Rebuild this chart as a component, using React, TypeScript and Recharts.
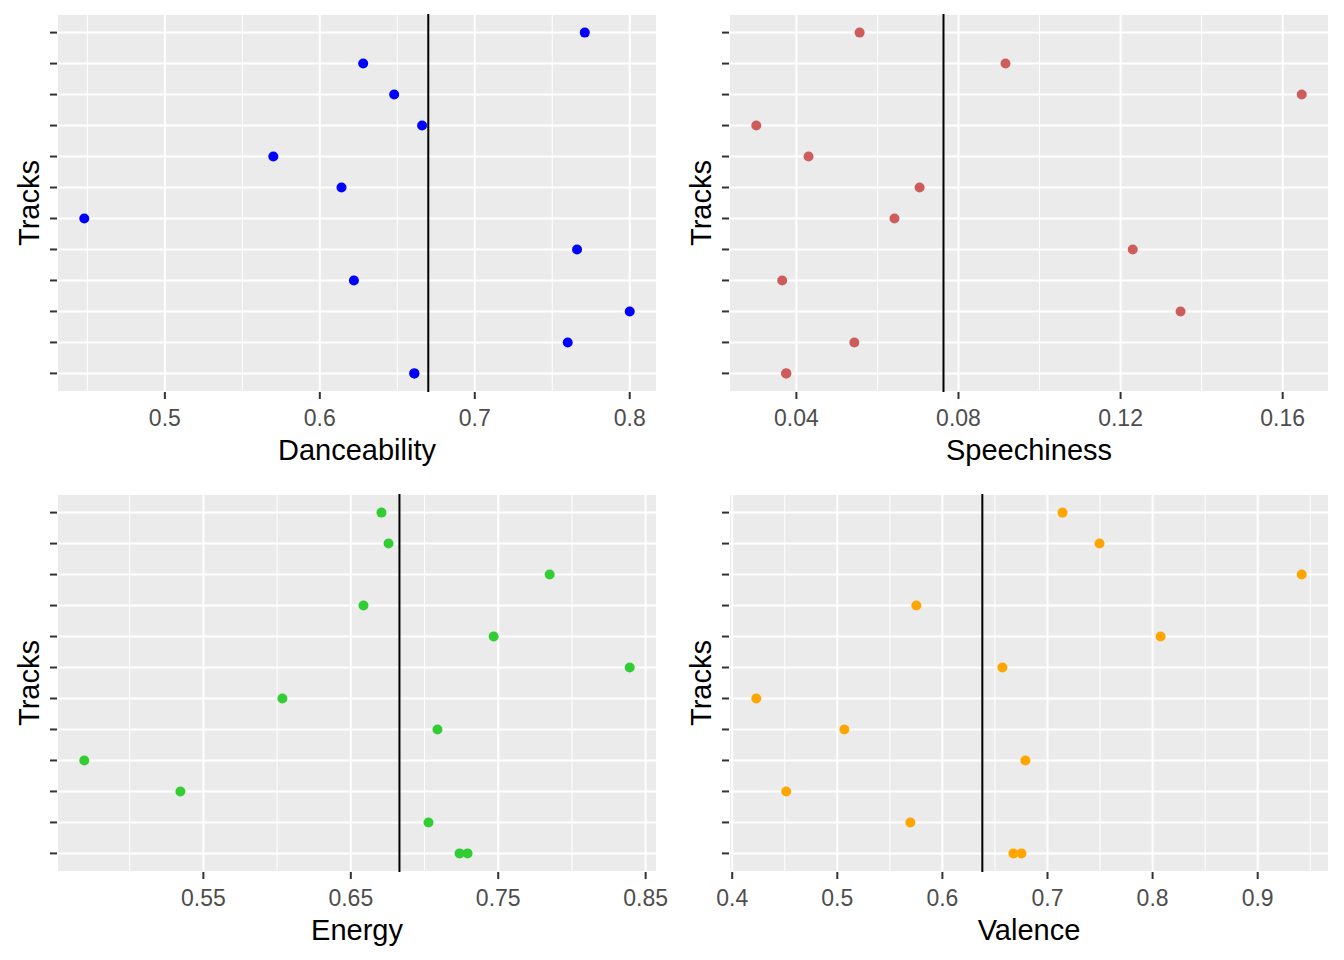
import {
  ScatterChart,
  Scatter,
  XAxis,
  YAxis,
  CartesianGrid,
  ReferenceLine,
} from 'recharts';

// Track levels, bottom to top (discrete y axis, labels hidden in the source chart)
const trackLevels = [
  'Track 01', 'Track 02', 'Track 03', 'Track 04', 'Track 05', 'Track 06',
  'Track 07', 'Track 08', 'Track 09', 'Track 10', 'Track 11', 'Track 12',
];

// One entry per point; the last two share a track
const pointTracks = [
  'Track 12', 'Track 11', 'Track 10', 'Track 09', 'Track 08', 'Track 07',
  'Track 06', 'Track 05', 'Track 04', 'Track 03', 'Track 02', 'Track 01', 'Track 01',
];

const danceability = [0.771, 0.628, 0.648, 0.666, 0.570, 0.614, 0.448, 0.766, 0.622, 0.800, 0.760, 0.661, 0.661];
const speechiness = [0.0556, 0.0916, 0.1647, 0.0301, 0.0430, 0.0704, 0.0642, 0.1230, 0.0365, 0.1348, 0.0543, 0.0375, 0.0375];
const energy = [0.6708, 0.6756, 0.7849, 0.6586, 0.7469, 0.8392, 0.6036, 0.7088, 0.4692, 0.5344, 0.7027, 0.7238, 0.7292];
const valence = [0.7143, 0.7495, 0.9419, 0.5752, 0.8076, 0.6571, 0.4229, 0.5067, 0.6790, 0.4514, 0.5695, 0.6676, 0.6752];

// Reference (average) lines drawn in black
const danceabilityRef = 0.670;
const speechinessRef = 0.0763;
const energyRef = 0.683;
const valenceRef = 0.638;

const danceabilityTicks = [0.5, 0.6, 0.7, 0.8];
const danceabilityMinor = [0.45, 0.55, 0.65, 0.75];
const speechinessTicks = [0.04, 0.08, 0.12, 0.16];
const speechinessMinor = [0.06, 0.1, 0.14];
const energyTicks = [0.55, 0.65, 0.75, 0.85];
const energyMinor = [0.5, 0.6, 0.7, 0.8];
const valenceTicks = [0.4, 0.5, 0.6, 0.7, 0.8, 0.9];
const valenceMinor = [0.45, 0.55, 0.65, 0.75, 0.85, 0.95];

const trackTicks = trackLevels.map((_, i) => i + 1);

// ggplot-style 5% expansion around the data range
function expand(values: number[]): [number, number] {
  const lo = Math.min(...values);
  const hi = Math.max(...values);
  const pad = (hi - lo) * 0.05;
  return [lo - pad, hi + pad];
}

interface PanelProps {
  title: string;
  values: number[];
  refValue: number;
  ticks: number[];
  minor: number[];
  color: string;
}

function Panel({ title, values, refValue, ticks, minor, color }: PanelProps) {
  const data = values.map((v, i) => ({
    x: v,
    y: trackLevels.indexOf(pointTracks[i]) + 1,
  }));

  return (
    <ScatterChart
      width={672}
      height={480}
      margin={{ top: 14, right: 15, bottom: 0, left: 0 }}
    >
      <CartesianGrid fill="#EBEBEB" stroke="#FFFFFF" strokeWidth={2} />
      {minor.map((m) => (
        <ReferenceLine key={m} x={m} stroke="#FFFFFF" strokeWidth={1} />
      ))}
      <XAxis
        type="number"
        dataKey="x"
        domain={expand(values)}
        allowDataOverflow
        ticks={ticks}
        interval={0}
        height={88}
        axisLine={false}
        tickSize={7}
        tickMargin={11}
        tickLine={{ stroke: '#333333', strokeWidth: 2 }}
        tick={{ fill: '#4D4D4D', fontSize: 23 }}
        label={{
          value: title,
          position: 'insideBottom',
          offset: 20,
          style: { fill: '#000000', fontSize: 29 },
        }}
      />
      <YAxis
        type="number"
        dataKey="y"
        domain={[0.4, trackLevels.length + 0.6]}
        allowDataOverflow
        ticks={trackTicks}
        interval={0}
        width={57}
        axisLine={false}
        tickSize={7}
        tickLine={{ stroke: '#333333', strokeWidth: 2 }}
        tickFormatter={() => ''}
        label={{
          value: 'Tracks',
          angle: -90,
          position: 'center',
          style: { fill: '#000000', fontSize: 29 },
        }}
      />
      <Scatter
        data={data}
        fill={color}
        isAnimationActive={false}
        shape={(p: any) => <circle cx={p.cx} cy={p.cy} r={5} fill={color} />}
      />
      <ReferenceLine x={refValue} stroke="#000000" strokeWidth={2} />
    </ScatterChart>
  );
}

export default function App() {
  return (
    <div
      style={{
        position: 'absolute',
        left: 0,
        top: 0,
        width: 1344,
        height: 960,
        background: '#FFFFFF',
        display: 'flex',
        flexWrap: 'wrap',
        fontFamily: '"Liberation Sans", Arial, sans-serif',
      }}
    >
      <Panel
        title="Danceability"
        values={danceability}
        refValue={danceabilityRef}
        ticks={danceabilityTicks}
        minor={danceabilityMinor}
        color="#0000FF"
      />
      <Panel
        title="Speechiness"
        values={speechiness}
        refValue={speechinessRef}
        ticks={speechinessTicks}
        minor={speechinessMinor}
        color="#CD5C5C"
      />
      <Panel
        title="Energy"
        values={energy}
        refValue={energyRef}
        ticks={energyTicks}
        minor={energyMinor}
        color="#32CD32"
      />
      <Panel
        title="Valence"
        values={valence}
        refValue={valenceRef}
        ticks={valenceTicks}
        minor={valenceMinor}
        color="#FFA500"
      />
    </div>
  );
}
